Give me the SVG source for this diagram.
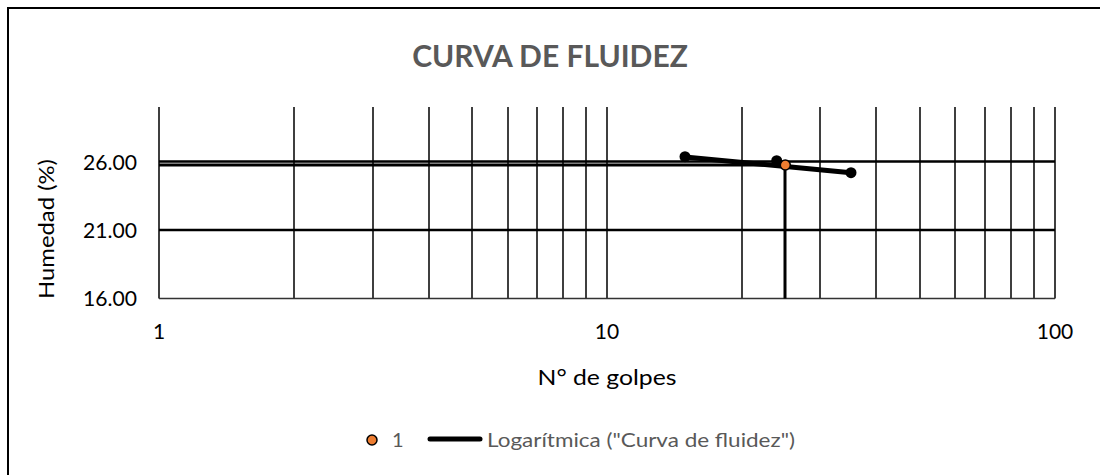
<svg xmlns="http://www.w3.org/2000/svg" width="1100" height="475" viewBox="0 0 1100 475">
<style>
.grid{stroke:#000;stroke-width:1.5;fill:none}
.hgrid{stroke:#000;stroke-width:2.5;fill:none}
.tick{font-family:Lato,"Liberation Sans",sans-serif;font-size:21px;fill:#000}
.lbl{font-family:Lato,"Liberation Sans",sans-serif;font-size:22px;fill:#000}
.leg{font-family:Lato,"Liberation Sans",sans-serif;font-size:20px;fill:#595959}
.title{font-family:Lato,"Liberation Sans",sans-serif;font-size:30px;font-weight:bold;fill:#595959}
</style>
<rect x="0" y="0" width="1100" height="475" fill="#fff"/>
<rect x="8" y="8" width="1120" height="500" fill="none" stroke="#000" stroke-width="2"/>
<text class="title" x="550" y="67" text-anchor="middle">CURVA DE FLUIDEZ</text>
<g id="grid">
<path class="grid" d="M159 107V298.5M294 107V298.5M373 107V298.5M429 107V298.5M472 107V298.5M508 107V298.5M537 107V298.5M563 107V298.5M586 107V298.5M607 107V298.5M742 107V298.5M820 107V298.5M876 107V298.5M920 107V298.5M955 107V298.5M985 107V298.5M1011 107V298.5M1034 107V298.5M1055 107V298.5"/>
<path class="hgrid" d="M159 161.5H1055M159 230H1055"/>
<path d="M159 298.5H1055" stroke="#333" stroke-width="1.5" fill="none"/>
</g>
<g id="ticks">
<text class="tick" x="137" y="170" text-anchor="end" textLength="54" lengthAdjust="spacingAndGlyphs">26.00</text>
<text class="tick" x="137" y="238" text-anchor="end" textLength="54" lengthAdjust="spacingAndGlyphs">21.00</text>
<text class="tick" x="137" y="306" text-anchor="end" textLength="54" lengthAdjust="spacingAndGlyphs">16.00</text>
<text class="tick" x="159" y="339" text-anchor="middle">1</text>
<text class="tick" x="607" y="339" text-anchor="middle">10</text>
<text class="tick" x="1055" y="339" text-anchor="middle">100</text>
<text class="lbl" x="607" y="385" text-anchor="middle" textLength="139" lengthAdjust="spacingAndGlyphs">N° de golpes</text>
<text class="lbl" transform="translate(54 229) rotate(-90)" text-anchor="middle" textLength="140" lengthAdjust="spacingAndGlyphs">Humedad (%)</text>
</g>
<g id="connectors">
<path d="M159 165H785V298.5" stroke="#000" stroke-width="3" fill="none"/>
<path d="M685 157L851 172.7" stroke="#000" stroke-width="5" stroke-linecap="round" fill="none"/>
</g>
<g id="points">
<circle cx="685" cy="156.7" r="5.5" fill="#000"/>
<circle cx="776.7" cy="160.7" r="5.5" fill="#000"/>
<circle cx="851" cy="172.7" r="5.5" fill="#000"/>
<circle cx="785.3" cy="165" r="5" fill="#ED7D31" stroke="#000" stroke-width="1.5"/>
</g>
<g id="legend">
<circle cx="372" cy="440" r="5" fill="#ED7D31" stroke="#000" stroke-width="1.5"/>
<text class="leg" x="392" y="447">1</text>
<path d="M430 439H480" stroke="#000" stroke-width="5" stroke-linecap="round"/>
<text class="leg" x="487" y="447" textLength="308" lengthAdjust="spacingAndGlyphs">Logarítmica ("Curva de fluidez")</text>
</g>
</svg>
